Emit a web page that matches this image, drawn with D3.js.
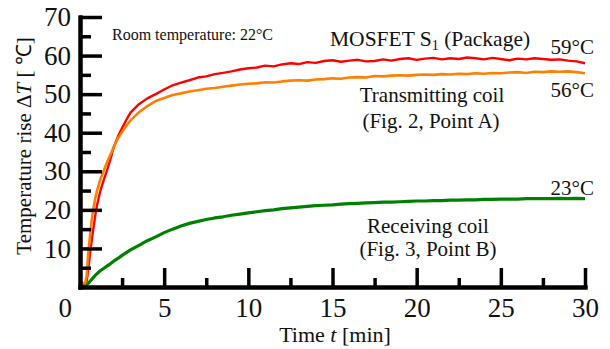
<!DOCTYPE html>
<html lang="en">
<head>
<meta charset="utf-8">
<title>Temperature rise</title>
<script type="text/javascript" src="https://d3js.org/d3.v7.min.js"></script>
<style>
  body { margin: 0; background: #fff; }
  text { font-family: "Liberation Serif", "Times New Roman", serif; fill: #111; }
</style>
</head>
<body>
<div id="container"></div>
<script type="text/javascript">
// time [min]
var times = [0, 0.3, 0.4, 0.5, 0.6, 0.7, 0.8, 0.9, 1.0, 1.2, 1.4, 1.6, 1.8, 2.0, 2.25, 2.5, 2.75, 3.0, 3.5, 4.0, 4.5, 5.0, 5.5, 6.0,
  6.5, 7, 7.5, 8, 8.5, 9, 9.5, 10, 10.5, 11, 11.5, 12, 12.5, 13, 13.5, 14, 14.5, 15,
  15.5, 16, 16.5, 17, 17.5, 18, 18.5, 19, 19.5, 20, 20.5, 21, 21.5, 22, 22.5, 23, 23.5, 24, 24.5, 25,
  25.5, 26, 26.5, 27, 27.5, 28, 28.5, 29, 29.5, 30];

// MOSFET S1 (package)
var mosfet = [1, 1, 1.5, 5, 8.8, 12.2, 15.3, 18.3, 21, 24.8, 27.6, 30.2, 33, 36.2, 39, 41.2, 43.3, 45.2, 47.4, 48.9, 50, 51.2, 52.3, 53,
  53.6, 54.3, 54.6, 55.2, 55.5, 55.9, 56.4, 56.7, 56.9, 57.4, 57.2, 57.7, 58.0, 57.8, 58.3, 58.1, 58.6, 58.8,
  58.4, 58.7, 58.9, 58.5, 58.6, 59.0, 58.7, 59.1, 59.3, 58.9, 59.2, 59.4, 59.0, 59.3, 59.1, 59.5, 59.3, 59.0, 59.4, 59.1,
  58.8, 59.2, 59.0, 59.3, 59.1, 58.9, 59.0, 58.7, 58.5, 58.0];

// transmitting coil (Fig. 2, point A)
var txCoil = [1, 1, 3, 9.5, 13.5, 17.5, 20.5, 22.8, 24.8, 27.8, 30, 32.3, 34.3, 36.2, 38.5, 40.2, 41.8, 43.2, 45.3, 46.9, 48.2, 49.0, 49.8, 50.2,
  50.7, 51.0, 51.4, 51.6, 51.9, 52.2, 52.5, 52.7, 52.8, 53.1, 53.0, 53.3, 53.5, 53.6, 53.5, 53.8, 53.9, 54.1,
  54.0, 54.3, 54.4, 54.3, 54.7, 54.6, 54.8, 54.9, 54.8, 55.0, 55.1, 55.0, 55.2, 55.1, 55.3, 55.2, 55.4, 55.3, 55.5, 55.4,
  55.6, 55.7, 55.5, 55.8, 55.7, 55.9, 55.8, 55.9, 55.7, 55.4];

// receiving coil (Fig. 3, point B)
var rxCoil = [0.5, 0.5, 0.6, 1.0, 1.5, 2.0, 2.5, 3.0, 3.4, 4.2, 4.8, 5.4, 6.0, 6.7, 7.4, 8.2, 8.9, 9.6, 10.8, 12.0, 13.0, 14.1, 15.0, 15.8,
  16.5, 17.0, 17.5, 17.9, 18.2, 18.6, 18.9, 19.2, 19.5, 19.8, 20.0, 20.3, 20.5, 20.7, 20.9, 21.1, 21.2, 21.3,
  21.5, 21.6, 21.7, 21.8, 21.9, 22.0, 22.0, 22.1, 22.2, 22.3, 22.3, 22.4, 22.4, 22.5, 22.5, 22.6, 22.6, 22.7, 22.7, 22.8,
  22.8, 22.8, 22.9, 22.9, 22.9, 22.9, 23.0, 22.9, 23.0, 22.9];

var xMajor = [5, 10, 15, 20, 25, 30];
var xMinor = [2.5, 7.5, 12.5, 17.5, 22.5, 27.5];
var yMajor = [10, 20, 30, 40, 50, 60, 70];
var yMinor = [5, 15, 25, 35, 45, 55, 65];

var w = 610, h = 349;
var svg = d3.select("div#container").append("svg")
    .attr("width", w).attr("height", h);

var x = d3.scaleLinear().domain([0, 30]).range([80, 585]);
var y = d3.scaleLinear().domain([0, 70]).range([287, 17]);

// curves
var line = d3.line()
    .x(function(d, i) { return x(times[i]); })
    .y(function(d) { return y(d); });

svg.append("path").datum(rxCoil)
    .attr("d", line).attr("fill", "none")
    .attr("stroke", "#008000").attr("stroke-width", 3.2).attr("stroke-linejoin", "round");
svg.append("path").datum(mosfet)
    .attr("d", line).attr("fill", "none")
    .attr("stroke", "#ff0000").attr("stroke-width", 2.4).attr("stroke-linejoin", "round");
svg.append("path").datum(txCoil)
    .attr("d", line).attr("fill", "none")
    .attr("stroke", "#ff8000").attr("stroke-width", 2.6).attr("stroke-linejoin", "round");

// axes
function styleAxis(g, width) {
  g.selectAll(".domain").attr("stroke", "#000").attr("stroke-width", 4).attr("stroke-linecap", "square");
  g.selectAll(".tick line").attr("stroke", "#000").attr("stroke-width", width);
  g.selectAll(".tick text").style("font-family", "'Liberation Serif', 'Times New Roman', serif")
    .style("font-size", "27px").attr("fill", "#111");
}

var yMinorAxis = svg.append("g").attr("transform", "translate(" + x(0) + ",0)")
    .call(d3.axisLeft(y).tickValues(yMinor).tickSizeInner(-11).tickSizeOuter(0).tickFormat(""));
styleAxis(yMinorAxis, 3.5);
var yAxis = svg.append("g").attr("transform", "translate(" + x(0) + ",0)")
    .call(d3.axisLeft(y).tickValues(yMajor).tickSizeInner(-22).tickSizeOuter(0).tickPadding(9));
styleAxis(yAxis, 3.5);

var xMinorAxis = svg.append("g").attr("transform", "translate(0," + y(0) + ")")
    .call(d3.axisBottom(x).tickValues(xMinor).tickSizeInner(-9).tickSizeOuter(0).tickFormat(""));
styleAxis(xMinorAxis, 3.5);
var xAxis = svg.append("g").attr("transform", "translate(0," + y(0) + ")")
    .call(d3.axisBottom(x).tickValues(xMajor).tickSizeInner(-19).tickSizeOuter(0).tickPadding(11));
styleAxis(xAxis, 3.5);

// shared origin label
svg.append("text").attr("x", x(0) - 8).attr("y", y(0) + 30)
    .attr("text-anchor", "end").style("font-size", "27px").text("0");

// axis titles
var xt = svg.append("text").attr("x", 335).attr("y", 342)
    .attr("text-anchor", "middle").style("font-size", "22px");
xt.append("tspan").text("Time ");
xt.append("tspan").style("font-style", "italic").text("t");
xt.append("tspan").text(" [min]");

var yt = svg.append("text").attr("transform", "translate(31,146) rotate(-90)")
    .attr("text-anchor", "middle").style("font-size", "21px");
yt.append("tspan").text("Temperature rise Δ");
yt.append("tspan").style("font-style", "italic").text("T");
yt.append("tspan").text(" [ ℃]");

// annotations
svg.append("text").attr("x", 112).attr("y", 40).style("font-size", "16px")
    .text("Room temperature: 22°C");

var mos = svg.append("text").attr("x", 330).attr("y", 46).style("font-size", "21.5px");
mos.append("tspan").text("MOSFET S");
mos.append("tspan").attr("dy", 4).style("font-size", "14px").text("1");
mos.append("tspan").attr("dy", -4).text(" (Package)");

var ends = [["59°C", 54], ["56°C", 97], ["23°C", 195]];
svg.selectAll("text.end").data(ends).enter().append("text")
    .attr("class", "end")
    .attr("x", 594).attr("y", function(d) { return d[1]; })
    .attr("text-anchor", "end").style("font-size", "21px")
    .text(function(d) { return d[0]; });

var notes = [["Transmitting coil", 432, 102], ["(Fig. 2, Point A)", 431, 128],
             ["Receiving coil", 428, 233], ["(Fig. 3, Point B)", 428, 256]];
svg.selectAll("text.note").data(notes).enter().append("text")
    .attr("class", "note")
    .attr("x", function(d) { return d[1]; }).attr("y", function(d) { return d[2]; })
    .attr("text-anchor", "middle").style("font-size", "21px")
    .text(function(d) { return d[0]; });
</script>
</body>
</html>
